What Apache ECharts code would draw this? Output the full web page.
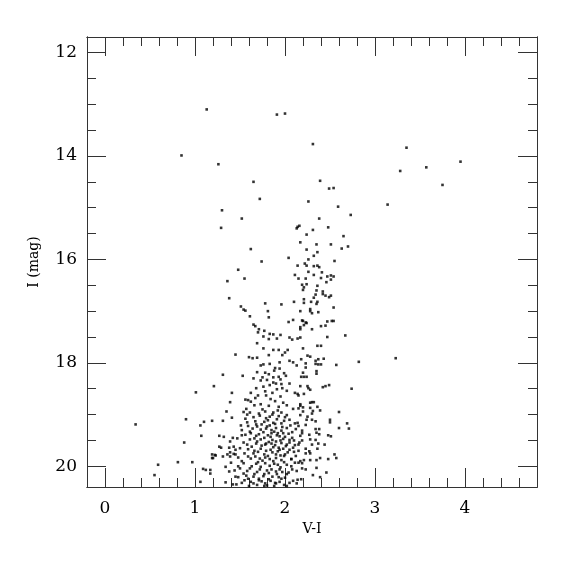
<!DOCTYPE html>
<html>
<head>
<meta charset="utf-8">
<script src="https://cdn.jsdelivr.net/npm/echarts@6/dist/echarts.min.js"></script>
<style>html,body{margin:0;padding:0;background:#fff}#c{width:575px;height:575px}</style>
</head>
<body>
<div id="c"></div>
<script>
// Axis ranges and ticks
var xRange = [-0.2, 4.8];
var yRange = [11.7, 20.4];
var xMajor = [0, 1, 2, 3, 4];
var xMinor = [0.2,0.4,0.6,0.8,1.2,1.4,1.6,1.8,2.2,2.4,2.6,2.8,3.2,3.4,3.6,3.8,4.2,4.4,4.6];
var yMajor = [12, 14, 16, 18, 20];
var yMinor = [12.5,13,13.5,14.5,15,15.5,16.5,17,17.5,18.5,19,19.5];

// Stars: [V-I, I]
var brightStars = [
[1.13,13.10],[1.91,13.20],[2.00,13.18],[0.85,13.99],[1.26,14.16],[1.65,14.50],[1.72,14.83],[2.26,14.88],
[1.30,15.05],[1.52,15.21],[1.29,15.39],[2.13,15.40],[2.14,15.37],[2.16,15.35],[2.24,15.52],[2.17,15.67],
[1.62,15.80],[2.24,15.81],[2.04,15.97],[2.26,16.00],[1.74,16.04],[2.14,16.12],[2.22,16.08],[2.24,16.12],
[2.26,16.24],[1.48,16.20],[1.55,16.37],[2.11,16.30],[2.15,16.37],[2.23,16.37],[1.36,16.42],[2.19,16.49],[2.24,16.48]
];
var redStars = [
[2.31,13.77],[3.35,13.84],[3.95,14.11],[3.57,14.22],[3.28,14.29],[3.75,14.56],[2.39,14.48],[2.49,14.63],
[2.54,14.62],[3.14,14.94],[2.59,14.98],[2.73,15.14],[2.38,15.21],[2.48,15.38],[2.31,15.43],[2.65,15.55],
[2.35,15.71],[2.51,15.71],[2.70,15.75],[2.63,15.79],[2.36,15.86],[2.32,15.93],[2.55,16.03],[2.32,16.13],
[2.36,16.12],[2.38,16.15],[2.41,16.25],[2.32,16.30],[2.40,16.36],[2.47,16.33],[2.51,16.31],[2.54,16.33],
[2.51,16.39],[2.46,16.44],[2.36,16.51],[2.82,17.98],[3.23,17.91]
];
var blueStars = [
[1.38,16.75],[1.45,17.84],[1.31,18.23],[1.21,18.45],[1.01,18.57],[1.41,18.58],[1.39,18.76],[1.35,18.94],
[0.34,19.19],[0.90,19.09],[1.10,19.14],[1.06,19.21],[1.19,19.12],[1.31,19.12],[1.41,19.06],[1.07,19.41],
[1.27,19.41],[1.32,19.43],[1.42,19.45],[0.88,19.54],[1.39,19.52],[1.27,19.62],[1.29,19.64],[1.38,19.64],
[1.43,19.62],[1.39,19.73],[1.43,19.76],[1.45,19.77],[1.36,19.77],[1.39,19.81],[1.31,19.81],[1.19,19.77],
[1.22,19.78],[1.23,19.79],[1.19,19.84],[1.20,19.84],[1.40,19.93],[1.34,20.01],[0.81,19.92],[0.97,19.92],
[0.59,19.97],[1.09,20.05],[1.12,20.07],[1.17,20.07],[1.17,20.14],[1.38,20.10],[0.55,20.17],[1.06,20.30],
[1.34,20.31],[1.45,20.20],[1.42,20.35]
];
var coreLeft = [
[2.10,16.82],[1.78,16.85],[1.96,16.87],[1.51,16.91],[1.54,16.97],[1.56,16.99],[1.81,17.00],[1.61,17.10],
[1.82,17.12],[2.09,17.17],[2.04,17.21],[1.65,17.26],[1.67,17.29],[1.71,17.35],[1.77,17.38],[1.70,17.41],
[1.83,17.44],[1.87,17.45],[1.95,17.46],[1.76,17.49],[1.82,17.54],[1.91,17.53],[2.05,17.51],[2.08,17.55],
[1.69,17.62],[1.76,17.72],[1.87,17.75],[1.93,17.75],[2.03,17.75],[2.00,17.80],[1.97,17.85],[1.82,17.85],
[1.60,17.89],[1.64,17.91],[1.69,17.90],[2.05,17.96],[2.09,17.99],[1.94,17.99],[1.83,18.02],[1.76,18.03],
[1.73,18.05],[1.89,18.10],[1.94,18.11],[1.88,18.15],[1.69,18.18],[1.78,18.19],[1.82,18.22],[1.99,18.20],
[1.53,18.25],[1.93,18.27],[2.01,18.25],[1.87,18.28],[1.80,18.33],[1.73,18.34],[1.90,18.40],[1.83,18.43],
[1.96,18.41],[2.05,18.40],[1.76,18.46],[1.68,18.49],[1.97,18.49],[1.91,18.51],[2.02,18.54],[1.86,18.58],
[2.11,18.58],[1.79,18.63],[1.70,18.63],[1.59,18.72],[1.56,18.71],[1.62,18.75],[1.73,18.80],[1.89,18.74],
[1.98,18.77],[1.66,18.82],[1.82,18.83],[1.93,18.85],[2.02,18.82],[2.09,18.89],[1.57,18.89],[1.54,18.95],
[1.61,18.96],[1.71,18.98],[1.78,18.94],[1.87,18.96],[1.96,18.96],[2.02,19.01],[1.83,19.04],[1.56,19.08],
[1.91,19.09],[2.05,19.10],[1.67,19.13],[1.77,19.14],[1.87,19.16],[1.96,19.17],[2.11,19.17],[1.51,19.21],
[1.59,19.22],[1.69,19.23],[1.80,19.23],[1.90,19.26],[2.02,19.26],[1.52,19.30],[1.85,19.30],[1.96,19.31],
[1.76,19.34],[2.08,19.34],[1.62,19.36],[1.56,19.39],[1.68,19.41],[1.81,19.40],[1.91,19.40],[2.00,19.43],
[1.47,19.46],[1.61,19.48],[1.73,19.48],[1.86,19.49],[1.95,19.50],[2.05,19.49],[1.54,19.54],[1.68,19.56],
[1.79,19.56],[1.89,19.59],[2.02,19.58],[2.11,19.59],[1.50,19.65],[1.59,19.67],[1.73,19.66],[1.84,19.68],
[1.94,19.68],[2.05,19.68],[1.55,19.75],[1.65,19.75],[1.77,19.77],[1.90,19.77],[2.00,19.77],[1.48,19.83],
[1.62,19.85],[1.72,19.85],[1.83,19.86],[1.96,19.88],[2.07,19.86],[1.54,19.94],[1.68,19.95],[1.78,19.94],
[1.88,19.95],[2.02,19.97],[1.50,20.04],[1.61,20.04],[1.72,20.06],[1.85,20.06],[1.94,20.06],[2.08,20.06],
[1.54,20.14],[1.66,20.15],[1.77,20.15],[1.91,20.15],[2.02,20.15],[1.48,20.21],[1.59,20.24],[1.71,20.24],
[1.82,20.25],[1.96,20.24],[1.52,20.32],[1.65,20.33],[1.78,20.33],[1.89,20.32],[2.05,20.32]
];
var coreDense = [
[1.72,19.02],[1.79,19.07],[1.93,19.03],[1.99,19.12],[1.74,19.19],[1.83,19.21],[1.97,19.24],[2.06,19.21],
[1.64,19.27],[1.73,19.29],[1.88,19.33],[1.92,19.36],[2.04,19.37],[1.71,19.38],[1.84,19.43],[1.77,19.45],
[1.98,19.47],[2.08,19.45],[1.66,19.46],[1.90,19.52],[1.82,19.53],[1.96,19.55],[2.01,19.61],[1.74,19.60],
[1.63,19.62],[1.87,19.63],[1.93,19.64],[1.98,19.66],[2.09,19.64],[1.79,19.70],[1.70,19.72],[1.92,19.71],
[1.86,19.73],[2.03,19.73],[1.95,19.79],[1.81,19.80],[1.67,19.81],[1.75,19.89],[1.87,19.90],[1.99,19.92],
[2.11,19.93],[1.92,19.97],[1.83,19.99],[1.63,20.00],[1.73,20.01],[1.80,20.08],[1.90,20.10],[1.97,20.11],
[2.04,20.12],[1.69,20.11],[1.58,20.09],[1.76,20.19],[1.86,20.20],[1.93,20.21],[2.00,20.22],[1.65,20.20],
[1.55,20.27],[1.74,20.29],[1.84,20.28],[1.94,20.30],[1.69,20.36],[1.80,20.37],[1.88,20.38],[1.99,20.36],
[1.60,20.38],[1.46,20.35],[2.09,20.28],[2.13,20.09],[2.12,19.80],[2.10,19.50],[2.12,19.28],[1.58,19.00],
[1.65,19.05],[1.86,19.00],[1.75,18.90],[1.92,18.92],[1.84,18.70],[1.67,18.68],[1.95,18.65],[1.78,18.55],
[1.62,18.58],[1.87,18.38],[1.75,18.28],[1.95,18.32],[1.65,18.30],[1.58,19.15],[1.52,19.40],[1.58,19.58],
[1.45,19.68],[1.52,19.90],[1.44,20.08],[1.57,20.18],[1.48,20.00],[1.79,19.27],[1.85,19.36],[1.94,19.42],
[1.69,19.52],[1.78,19.58],[1.85,19.56],[2.05,19.54],[1.99,19.80],[1.90,19.84],[1.78,19.83],[1.70,19.92],
[1.95,20.02],[2.07,20.00],[1.82,20.13],[1.71,20.27],[1.90,20.33],[2.02,20.38],[1.77,20.38],[1.98,19.36],
[1.89,19.18],[1.81,19.11],[2.00,19.05],[1.68,19.19],[1.61,19.33],[2.10,19.72],[2.07,19.86],[2.13,20.33],
[1.66,19.70],[1.59,19.81],[1.62,20.30]
];
var coreRight = [
[2.21,16.54],[2.20,16.59],[2.35,16.60],[2.42,16.62],[2.42,16.67],[2.34,16.68],[2.45,16.70],[2.51,16.70],
[2.49,16.73],[2.32,16.74],[2.36,16.82],[2.29,16.82],[2.35,16.86],[2.21,16.77],[2.21,16.84],[2.28,16.96],
[2.28,17.00],[2.54,16.93],[2.37,17.02],[2.30,17.04],[2.17,17.00],[2.19,17.18],[2.20,17.19],[2.23,17.22],
[2.47,17.20],[2.52,17.19],[2.54,17.19],[2.24,17.23],[2.21,17.27],[2.17,17.31],[2.17,17.35],[2.40,17.29],
[2.45,17.28],[2.30,17.35],[2.67,17.47],[2.47,17.50],[2.17,17.51],[2.14,17.53],[2.20,17.72],[2.36,17.67],
[2.40,17.67],[2.25,17.86],[2.28,17.88],[2.43,17.92],[2.37,17.93],[2.34,17.96],[2.34,18.02],[2.18,17.93],
[2.23,18.01],[2.13,18.05],[2.37,18.03],[2.40,18.03],[2.57,18.04],[2.23,18.09],[2.20,18.19],[2.35,18.16],
[2.35,18.21],[2.21,18.27],[2.18,18.27],[2.24,18.27],[2.17,18.45],[2.25,18.45],[2.28,18.52],[2.26,18.49],
[2.45,18.45],[2.49,18.43],[2.42,18.47],[2.74,18.50],[2.14,18.60],[2.21,18.60],[2.15,18.63],[2.28,18.77],
[2.30,18.76],[2.32,18.76],[2.17,18.80],[2.17,18.83],[2.20,18.86],[2.36,18.85],[2.28,18.87],[2.15,18.88],
[2.20,18.94],[2.31,18.93],[2.30,18.98],[2.39,18.92],[2.60,18.95],[2.17,19.01],[2.25,19.04],[2.24,19.10],
[2.30,19.10],[2.34,19.13],[2.50,19.10],[2.50,19.15],[2.14,19.16],[2.15,19.22],[2.23,19.20],[2.34,19.28],
[2.38,19.28],[2.71,19.27],[2.69,19.17],[2.60,19.26],[2.19,19.31],[2.19,19.36],[2.35,19.35],[2.38,19.38],
[2.27,19.39],[2.17,19.41],[2.28,19.48],[2.34,19.49],[2.48,19.40],[2.51,19.42],[2.19,19.50],[2.16,19.54],
[2.15,19.58],[2.30,19.58],[2.37,19.56],[2.44,19.58],[2.23,19.66],[2.36,19.66],[2.27,19.71],[2.15,19.70],
[2.23,19.75],[2.28,19.75],[2.55,19.77],[2.57,19.84],[2.48,19.86],[2.39,19.84],[2.35,19.88],[2.28,19.88],
[2.21,19.88],[2.17,19.90],[2.15,19.93],[2.19,19.94],[2.19,20.04],[2.35,20.03],[2.23,20.06],[2.46,20.12],
[2.31,20.17],[2.39,20.21],[2.18,20.25],[2.14,20.26]
];

var serif = '"DejaVu Serif", "Liberation Serif", serif';
var axisColor = '#333';

function xAx(pos, ticks, len, labels, name) {
  return {
    type: 'value', position: pos, min: xRange[0], max: xRange[1],
    name: name || '', nameLocation: 'middle', nameGap: 31,
    nameTextStyle: { fontFamily: serif, fontSize: 14, color: '#000' },
    axisLine: { show: true, onZero: false, lineStyle: { color: axisColor, width: 1 } },
    axisTick: { show: true, inside: true, length: len, customValues: ticks, lineStyle: { color: axisColor, width: 1 } },
    axisLabel: labels ? { show: true, customValues: ticks, margin: 13, fontFamily: serif, fontSize: 17, color: '#000' } : { show: false },
    splitLine: { show: false }
  };
}
function yAx(pos, ticks, len, labels, name) {
  return {
    type: 'value', position: pos, min: yRange[0], max: yRange[1], inverse: true,
    name: name || '', nameLocation: 'middle', nameGap: 46, nameRotate: 90,
    nameTextStyle: { fontFamily: serif, fontSize: 14, color: '#000' },
    axisLine: { show: true, onZero: false, lineStyle: { color: axisColor, width: 1 } },
    axisTick: { show: true, inside: true, length: len, customValues: ticks, lineStyle: { color: axisColor, width: 1 } },
    axisLabel: labels ? { show: true, customValues: ticks, margin: 10, fontFamily: serif, fontSize: 17, color: '#000' } : { show: false },
    splitLine: { show: false }
  };
}

var allStars = [].concat(brightStars, redStars, blueStars, coreLeft, coreDense, coreRight);

var chart = echarts.init(document.getElementById('c'), null, { renderer: 'canvas' });
chart.setOption({
  animation: false,
  backgroundColor: '#fff',
  grid: { left: 87, top: 37, width: 450, height: 450, containLabel: false },
  xAxis: [
    xAx('bottom', xMajor, 19, true, 'V-I'),
    xAx('bottom', xMinor, 9, false),
    xAx('top', xMajor, 19, false),
    xAx('top', xMinor, 9, false)
  ],
  yAxis: [
    yAx('left', yMajor, 19, true, 'I (mag)'),
    yAx('left', yMinor, 9, false),
    yAx('right', yMajor, 19, false),
    yAx('right', yMinor, 9, false)
  ],
  series: [{
    type: 'scatter', xAxisIndex: 0, yAxisIndex: 0,
    data: allStars, symbol: 'rect', symbolSize: 2.6,
    itemStyle: { color: '#000' }
  }]
});
</script>
</body>
</html>
